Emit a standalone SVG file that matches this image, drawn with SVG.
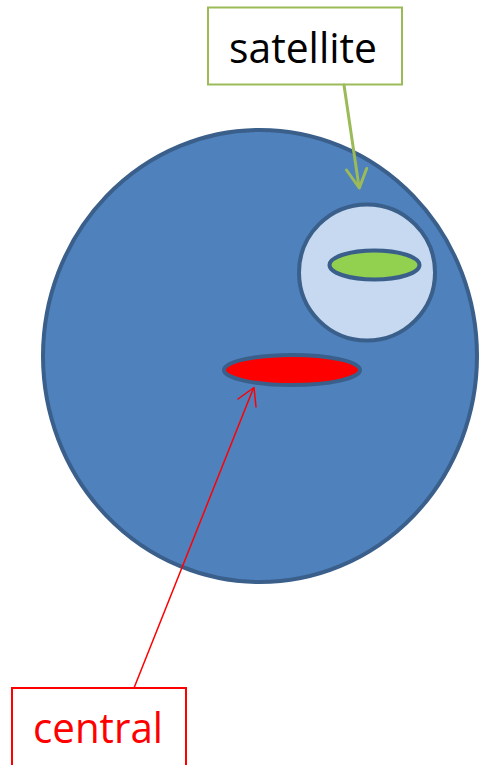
<svg xmlns="http://www.w3.org/2000/svg" width="479" height="765" viewBox="0 0 479 765">
<style>
.shape{stroke:#3a5f8b;stroke-width:4}
.lbl{font-family:"Open Sans","Liberation Sans",sans-serif;font-size:42px}
</style>
<rect width="479" height="765" fill="#ffffff"/>
<g id="cell">
<ellipse class="shape" cx="260" cy="356" rx="217" ry="226" fill="#4f81bd"/>
</g>
<g id="satellite-body">
<circle class="shape" cx="367" cy="272.5" r="68" fill="#c6d9f0"/>
<ellipse class="shape" cx="374.5" cy="265" rx="45" ry="14.5" fill="#92d050"/>
</g>
<g id="central-body">
<ellipse class="shape" cx="292" cy="370" rx="68" ry="15" fill="#ff0000"/>
</g>
<g id="satellite-label">
<rect x="208" y="7.5" width="194" height="77" fill="#ffffff" stroke="#9bbb59" stroke-width="2"/>
<text class="lbl" x="229" y="63" textLength="148" lengthAdjust="spacingAndGlyphs" fill="#000000">satellite</text>
</g>
<g id="central-label">
<rect x="12" y="688" width="174" height="90" fill="#ffffff" stroke="#ff0000" stroke-width="2"/>
<text class="lbl" x="33" y="743" textLength="130" lengthAdjust="spacingAndGlyphs" fill="#ff0000">central</text>
</g>
<g id="connectors" fill="none" stroke-linecap="round" stroke-linejoin="round">
<path d="M344 85 L359 187" stroke="#9bbb59" stroke-width="3"/>
<path d="M346.5 170 L359.3 188 L366.7 168.5" stroke="#9bbb59" stroke-width="3"/>
<path d="M134 688 L253.5 388" stroke="#ff0000" stroke-width="1.5"/>
<path d="M238 399 L254 387.5 L256 407" stroke="#ff0000" stroke-width="1.5"/>
</g>
</svg>
